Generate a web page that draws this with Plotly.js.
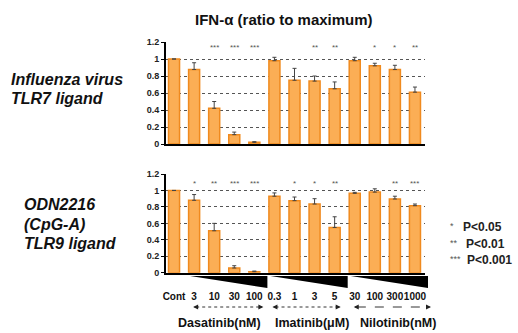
<!DOCTYPE html>
<html>
<head>
<meta charset="utf-8">
<script src="https://cdn.plot.ly/plotly-3.0.1.min.js"></script>
<style>html,body{margin:0;padding:0;background:#fff;}#chart{width:518px;height:333px;}</style>
</head>
<body>
<div id="chart"></div>
<script>
// ---- data ----
const tickLabels = ['Cont','3','10','30','100','0.3','1','3','5','30','100','300','1000'];
const tlr7Values = [1.0,0.876,0.42,0.11,0.02,0.98,0.75,0.74,0.65,0.98,0.92,0.876,0.61];
const tlr7Errors = [0,0.08,0.08,0.03,0.007,0.04,0.14,0.06,0.08,0.04,0.03,0.05,0.06];
const tlr7Stars  = ['','','***','***','***','','','**','**','','*','*','**'];
const tlr9Values = [1.0,0.88,0.51,0.057,0.012,0.93,0.876,0.835,0.55,0.965,0.98,0.896,0.815];
const tlr9Errors = [0,0.07,0.09,0.028,0.008,0.04,0.044,0.065,0.13,0.012,0.04,0.034,0.02];
const tlr9Stars  = ['','*','**','***','***','','*','*','**','','','**','***'];
const groupNames = ['Dasatinib(nM)','Imatinib(\u03bcM)','Nilotinib(nM)'];
const groupStart = [1,5,9];
const groupEnd   = [4,8,12];
const legendStars = ['*','**','***'];
const legendText = ['P<0.05','P<0.01','P<0.001'];

// ---- layout helpers ----
const W = 518, H = 333;
const xr = [-0.4, 12.5];
const xDomPx = [166, 425];
const xIdx = tickLabels.map((_, i) => i);
const px2x = p => p / W;
const py2y = p => 1 - p / H;
const xToPaper = v => px2x(xDomPx[0] + (v - xr[0]) / (xr[1] - xr[0]) * (xDomPx[1] - xDomPx[0]));

const FONT = 'Liberation Sans, Arial, sans-serif';
const barFill = '#FBAE55', barLine = '#F08A1E';

function barTrace(vals, errs, xa, ya) {
  return {
    type: 'bar', x: xIdx, y: vals, xaxis: xa, yaxis: ya, width: 0.55,
    marker: {color: barFill, line: {color: barLine, width: 1.5}},
    error_y: {type: 'data', symmetric: false, array: errs, arrayminus: errs.map(() => 0),
              color: '#444', thickness: 1, width: 2},
    hoverinfo: 'skip', showlegend: false
  };
}

const yAxisBase = {
  range: [0, 1.2], tickvals: [0,0.2,0.4,0.6,0.8,1,1.2], ticktext: ['0','0.2','0.4','0.6','0.8','1','1.2'],
  showgrid: true, gridcolor: '#555', griddash: 'dot', gridwidth: 1,
  showline: true, linecolor: '#000', linewidth: 2, ticks: 'outside', ticklen: 3, tickcolor: '#000',
  tickfont: {family: FONT, size: 9, color: '#222', weight: 'bold'}, zeroline: false, fixedrange: true
};
const xAxisBase = {
  range: xr, domain: [px2x(xDomPx[0]), px2x(xDomPx[1])], showgrid: false, zeroline: false,
  showline: true, linecolor: '#000', linewidth: 2, ticks: '', fixedrange: true
};

const annotations = [];
// title
annotations.push({x: px2x(284), y: py2y(20), xref: 'paper', yref: 'paper', xanchor: 'center', yanchor: 'middle',
  text: 'IFN-\u03b1 (ratio to maximum)', showarrow: false, font: {family: FONT, size: 15, color: '#111', weight: 'bold'}});
// stars
tlr7Stars.forEach((s, i) => { if (s) annotations.push({x: i, y: 1.13, xref: 'x', yref: 'y', text: s, showarrow: false,
  font: {family: FONT, size: 8, color: '#555'}}); });
tlr9Stars.forEach((s, i) => { if (s) annotations.push({x: i, y: 1.09, xref: 'x2', yref: 'y2', text: s, showarrow: false,
  font: {family: FONT, size: 8, color: '#555'}}); });

// left labels
const leftLabels = [
  ['Influenza virus', 9, 79], ['TLR7 ligand', 9, 98],
  ['ODN2216', 22, 204], ['(CpG-A)', 22, 224], ['TLR9 ligand', 22, 243]
];
leftLabels.forEach(([t, x, y]) => annotations.push({x: px2x(x), y: py2y(y), xref: 'paper', yref: 'paper',
  xanchor: 'left', yanchor: 'middle', text: '<i>' + t + '</i>', showarrow: false,
  font: {family: FONT, size: 16, color: '#111', weight: 'bold'}}));

// legend text
legendText.forEach((t, k) => {
  annotations.push({x: px2x(448), y: py2y(226 + 16.5 * k), xref: 'paper', yref: 'paper',
    xanchor: 'left', yanchor: 'middle', text: legendStars[k], showarrow: false,
    font: {family: FONT, size: 9, color: '#555'}});
  annotations.push({x: px2x(461 + 3 * Math.min(k, 1) + (k === 2 ? 1 : 0)), y: py2y(227 + 16.5 * k), xref: 'paper', yref: 'paper',
    xanchor: 'left', yanchor: 'middle', text: t, showarrow: false,
    font: {family: FONT, size: 12, color: '#222', weight: 'bold'}});
});

const shapes = [];
const arrowY = py2y(307);
const arrowL = [-0.05, -0.1, -0.05];
const arrowR = [0.45, 0.3, 0.8];
const labelCenters = [219.5, 312, 397.5];
groupNames.forEach((g, k) => {
  // wedge
  const l = xToPaper(groupStart[k] - 0.2), r = xToPaper(groupEnd[k] + 0.65);
  const yt = py2y(276), yb = py2y(288);
  shapes.push({type: 'path', xref: 'paper', yref: 'paper',
    path: `M ${l} ${yt} L ${r} ${yt} L ${r} ${yb} Z`, fillcolor: '#000', line: {width: 0}});
  // dashed double arrow
  const al = xToPaper(groupStart[k] + arrowL[k]), ar = xToPaper(groupEnd[k] + arrowR[k]);
  shapes.push({type: 'line', xref: 'paper', yref: 'paper', x0: al + 0.006, x1: ar - 0.006, y0: arrowY, y1: arrowY,
    line: {color: '#333', width: 1, dash: (k === 2 ? 'dash' : 'dot')}});
  annotations.push({x: ar, y: arrowY, xref: 'paper', yref: 'paper', ax: -5, ay: 0, text: '',
    showarrow: true, arrowhead: 2, arrowsize: 1, arrowwidth: 1, arrowcolor: '#222'});
  annotations.push({x: al, y: arrowY, xref: 'paper', yref: 'paper', ax: 5, ay: 0, text: '',
    showarrow: true, arrowhead: 2, arrowsize: 1, arrowwidth: 1, arrowcolor: '#222'});
  // group label
  annotations.push({x: px2x(labelCenters[k]), y: py2y(323), xref: 'paper', yref: 'paper', text: g, showarrow: false,
    xanchor: 'center', yanchor: 'middle', font: {family: FONT, size: 12.5, color: '#111', weight: 'bold'}});
});

const layout = {
  width: W, height: H, margin: {l: 0, r: 0, t: 0, b: 0}, paper_bgcolor: '#fff', plot_bgcolor: '#fff',
  xaxis: Object.assign({}, xAxisBase, {anchor: 'y', showticklabels: false}),
  yaxis: Object.assign({}, yAxisBase, {domain: [py2y(144), py2y(42)], anchor: 'x'}),
  xaxis2: Object.assign({}, xAxisBase, {anchor: 'y2', tickvals: xIdx, ticktext: tickLabels, showticklabels: true,
    tickangle: 0, ticklabelstandoff: 13, tickfont: {family: FONT, size: 10, color: '#111', weight: 'bold'}}),
  yaxis2: Object.assign({}, yAxisBase, {domain: [py2y(272.7), py2y(174)], anchor: 'x2'}),
  annotations: annotations, shapes: shapes, showlegend: false
};

Plotly.newPlot('chart', [barTrace(tlr7Values, tlr7Errors, 'x', 'y'), barTrace(tlr9Values, tlr9Errors, 'x2', 'y2')],
  layout, {staticPlot: true, displayModeBar: false});
</script>
</body>
</html>
